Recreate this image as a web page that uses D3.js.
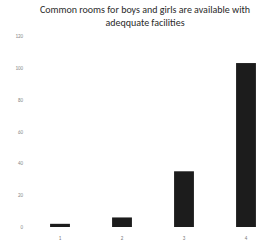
<html>
<head>
<script src="https://d3js.org/d3.v7.min.js"></script>
<style>
  body { margin: 0; background: #fff; }
  text { font-family: Calibri, "Liberation Sans", sans-serif; }
</style>
</head>
<body>
<svg id="chart" width="274" height="244"></svg>
<script>
// data
const categories = ["1", "2", "3", "4"];
const counts = [2, 6, 35, 103];
const yTicks = [0, 20, 40, 60, 80, 100, 120];
const titleLines = ["Common rooms for boys and girls are available with", "adeqquate facilities"];

const svg = d3.select("#chart");

const x = d3.scaleBand()
    .domain(categories)
    .range([29, 277])
    .paddingInner(0.68)
    .paddingOuter(0.34);

const y = d3.scaleLinear()
    .domain([0, 120])
    .range([227, 36]);

// title
svg.append("g").selectAll("text")
    .data(titleLines)
    .join("text")
    .attr("x", 145)
    .attr("y", (d, i) => 13 + i * 12.5)
    .attr("text-anchor", "middle")
    .attr("font-size", 10)
    .attr("fill", "#2a2a2a")
    .text(d => d);

// y axis labels, no line
const yAxis = svg.append("g")
    .attr("transform", "translate(23,0)")
    .call(d3.axisLeft(y).tickValues(yTicks).tickSize(0).tickPadding(0));
yAxis.select(".domain").remove();
yAxis.selectAll("text")
    .attr("font-size", 5)
    .attr("fill", "#888");

// x axis labels
const xAxis = svg.append("g")
    .attr("transform", "translate(0,234)")
    .call(d3.axisBottom(x).tickSize(0).tickPadding(2));
xAxis.select(".domain").remove();
xAxis.selectAll("text")
    .attr("font-size", 5)
    .attr("fill", "#777");

// bars
svg.append("g").selectAll("rect")
    .data(counts)
    .join("rect")
    .attr("x", (d, i) => x(categories[i]))
    .attr("y", d => y(d))
    .attr("width", x.bandwidth())
    .attr("height", d => y(0) - y(d))
    .attr("fill", "#1c1c1c");
</script>
</body>
</html>
